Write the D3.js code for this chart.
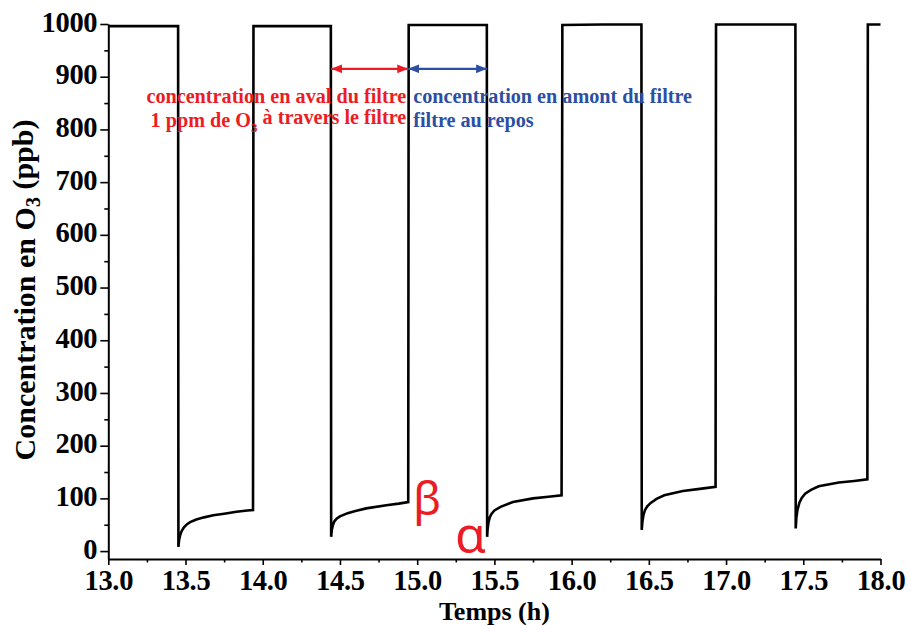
<!DOCTYPE html>
<html>
<head>
<meta charset="utf-8">
<script src="https://cdn.jsdelivr.net/npm/d3@7"></script>
<style>
  html, body { margin: 0; padding: 0; background: #fff; }
  svg { display: block; }
</style>
</head>
<body>
<svg id="chart" width="911" height="625"></svg>
<script>
// ---------------- DATA ----------------
// Each cycle: [time (h), O3 concentration (ppb)]
const cycle1 = [[13.000, 996], [13.200, 996], [13.452, 996], [13.454, 8], [13.458, 20], [13.465, 30], [13.475, 38], [13.490, 45], [13.510, 51], [13.530, 55], [13.570, 60], [13.620, 64], [13.680, 68], [13.750, 71], [13.830, 74.5], [13.900, 77], [13.937, 78]];
const cycle2 = [[13.940, 996], [14.200, 996], [14.441, 996], [14.443, 27], [14.447, 40], [14.455, 50], [14.465, 57], [14.480, 62], [14.500, 66], [14.550, 72], [14.600, 76], [14.670, 81], [14.800, 87], [14.880, 90], [14.942, 93]];
const cycle3 = [[14.945, 998], [15.200, 998], [15.451, 998], [15.453, 27], [15.456, 42], [15.462, 55], [15.470, 64], [15.480, 70], [15.500, 77], [15.540, 84], [15.620, 93], [15.750, 100], [15.850, 103], [15.935, 106]];
const cycle4 = [[15.940, 998], [16.200, 999], [16.452, 999], [16.454, 40], [16.458, 55], [16.465, 68], [16.475, 78], [16.490, 85], [16.510, 91], [16.550, 99], [16.600, 106], [16.720, 114], [16.830, 118], [16.932, 122]];
const cycle5 = [[16.935, 999], [17.200, 999], [17.449, 999], [17.451, 43], [17.455, 62], [17.462, 78], [17.475, 92], [17.490, 101], [17.512, 109], [17.550, 116], [17.600, 123], [17.730, 130], [17.830, 133], [17.915, 136]];
const tail   = [[17.918, 999], [18.000, 999]];

const xTicks = [13.0, 13.5, 14.0, 14.5, 15.0, 15.5, 16.0, 16.5, 17.0, 17.5, 18.0];
const xMinorTicks = [13.25, 13.75, 14.25, 14.75, 15.25, 15.75, 16.25, 16.75, 17.25, 17.75];
const yTicks = [0, 100, 200, 300, 400, 500, 600, 700, 800, 900, 1000];
const yMinorTicks = [50, 150, 250, 350, 450, 550, 650, 750, 850, 950];

// annotation anchors (times of the filter switch)
const downstreamStart = 14.443, switchTime = 14.942, upstreamEnd = 15.453;
const arrowLevel = 915;

// ---------------- CHART ----------------
const svg = d3.select("#chart");
const serif = "'Liberation Serif', 'Times New Roman', serif";
const red = "#ec1c24", blue = "#2b4fa3";

const x = d3.scaleLinear().domain([13, 18]).range([108.3, 880.5]);
const y = d3.scaleLinear().domain([-15, 1000]).range([559, 24]);

// data line
const data = [].concat(cycle1, cycle2, cycle3, cycle4, cycle5, tail);
svg.append("path")
  .datum(data)
  .attr("fill", "none")
  .attr("stroke", "#000")
  .attr("stroke-width", 2.6)
  .attr("d", d3.line().x(d => x(d[0])).y(d => y(d[1])));

// x axis
const xAxisG = svg.append("g").attr("transform", `translate(0,${y(-15)})`);
xAxisG.call(d3.axisBottom(x).tickValues(xTicks).tickSizeInner(6).tickSizeOuter(0).tickFormat(d3.format(".1f")));
svg.append("g").attr("transform", `translate(0,${y(-15)})`)
  .call(d3.axisBottom(x).tickValues(xMinorTicks).tickSizeInner(3.5).tickSizeOuter(0).tickFormat(""))
  .call(g => g.select(".domain").remove());

// y axis
const yAxisG = svg.append("g").attr("transform", `translate(${x(13)},0)`);
yAxisG.call(d3.axisLeft(y).tickValues(yTicks).tickSizeInner(8).tickSizeOuter(0).tickPadding(3).tickFormat(d3.format("d")));
svg.append("g").attr("transform", `translate(${x(13)},0)`)
  .call(d3.axisLeft(y).tickValues(yMinorTicks).tickSizeInner(4).tickSizeOuter(0).tickFormat(""))
  .call(g => g.select(".domain").remove());

[xAxisG, yAxisG].forEach(g => g.attr("font-family", serif).attr("font-weight", "bold").attr("font-size", 28.5));
svg.selectAll(".domain").attr("stroke", "#000").attr("stroke-width", 2);
svg.selectAll(".tick line").attr("stroke", "#000").attr("stroke-width", 1.6);
svg.selectAll(".tick text")
  .attr("fill", "#000")
  .attr("font-family", serif)
  .attr("font-weight", "bold")
  .attr("font-size", 28.5)
  .style("font-family", serif)
  .style("font-weight", "bold")
  .style("font-size", "28.5px")
  .style("letter-spacing", "-0.3px");
xAxisG.selectAll(".tick text").attr("dy", null).attr("y", 30.5);
yAxisG.selectAll(".tick text").attr("dy", "0.25em");

// axis titles
svg.append("text")
  .attr("x", (x(13) + x(18)) / 2)
  .attr("y", 619.5)
  .attr("text-anchor", "middle")
  .style("font-family", serif).style("font-weight", "bold").style("font-size", "26px")
  .text("Temps (h)");

const yTitle = svg.append("text")
  .attr("transform", "translate(35,290) rotate(-90)")
  .attr("text-anchor", "middle")
  .style("font-family", serif).style("font-weight", "bold").style("font-size", "30px");
yTitle.append("tspan").text("Concentration en O");
yTitle.append("tspan").attr("dy", "0.25em").style("font-size", "20px").text("3");
yTitle.append("tspan").attr("dy", "-0.25em").text(" (ppb)");

// arrows
const defs = svg.append("defs");
function marker(id, color) {
  defs.append("marker")
    .attr("id", id)
    .attr("viewBox", "0 0 10 8")
    .attr("refX", 10).attr("refY", 4)
    .attr("markerWidth", 11).attr("markerHeight", 9)
    .attr("markerUnits", "userSpaceOnUse")
    .attr("orient", "auto-start-reverse")
    .append("path").attr("d", "M0,0 L10,4 L0,8 Z").attr("fill", color);
}
marker("arrRed", red);
marker("arrBlue", blue);

svg.append("line")
  .attr("x1", x(downstreamStart)).attr("x2", x(switchTime))
  .attr("y1", y(arrowLevel)).attr("y2", y(arrowLevel))
  .attr("stroke", red).attr("stroke-width", 2.2)
  .attr("marker-start", "url(#arrRed)").attr("marker-end", "url(#arrRed)");
svg.append("line")
  .attr("x1", x(switchTime)).attr("x2", x(upstreamEnd))
  .attr("y1", y(arrowLevel)).attr("y2", y(arrowLevel))
  .attr("stroke", blue).attr("stroke-width", 2.2)
  .attr("marker-start", "url(#arrBlue)").attr("marker-end", "url(#arrBlue)");

// annotation texts
const annStyle = s => s.style("font-family", serif).style("font-weight", "bold").style("font-size", "20.2px");
svg.append("text").attr("x", x(switchTime) - 2).attr("y", 103).attr("text-anchor", "end")
  .attr("fill", red).call(annStyle).text("concentration en aval du filtre");
const l2 = svg.append("text").attr("x", x(switchTime) - 2).attr("y", 127).attr("text-anchor", "end")
  .attr("fill", red).call(annStyle);
l2.append("tspan").text("1 ppm de O");
l2.append("tspan").attr("dy", "0.35em").style("font-size", "13px").text("3");
l2.append("tspan").attr("dy", "-0.35em").text(" à travers le filtre");

svg.append("text").attr("x", x(switchTime) + 5).attr("y", 103)
  .attr("fill", blue).call(annStyle).text("concentration en amont du filtre");
svg.append("text").attr("x", x(switchTime) + 5).attr("y", 127)
  .attr("fill", blue).call(annStyle).text("filtre au repos");

// greek labels
svg.append("text").attr("x", 413).attr("y", 515).attr("fill", red)
  .style("font-family", "'Noto Sans', 'DejaVu Sans', sans-serif").style("font-size", "46px").text("β");
svg.append("text").attr("x", 455).attr("y", 553).attr("fill", red)
  .style("font-family", "'Noto Sans', 'DejaVu Sans', sans-serif").style("font-size", "50px").text("α");
</script>
</body>
</html>
